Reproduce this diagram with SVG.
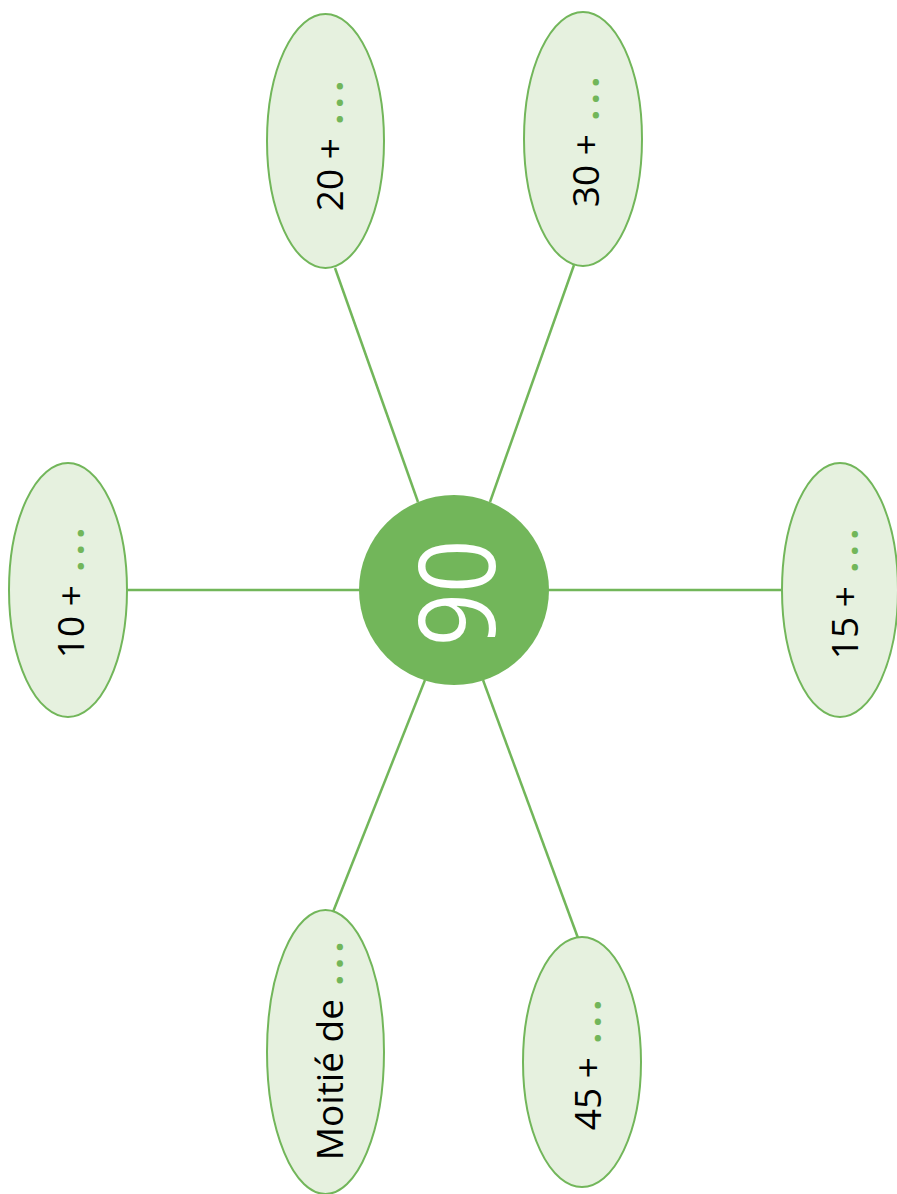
<svg xmlns="http://www.w3.org/2000/svg" width="897" height="1194" viewBox="0 0 897 1194">
  <style>
    .conn { stroke: #72B65A; stroke-width: 2.5; fill: none; }
    .leaf { fill: #E6F1DF; stroke: #72B65A; stroke-width: 2; }
    .hub { fill: #72B65A; }
    .lbl { font-family: "Open Sans", "Noto Sans", sans-serif; font-size: 37px; fill: #000; text-anchor: middle; }
    .dots { fill: #72B65A; letter-spacing: 6px; font-weight: bold; }
    .hubtxt { font-family: "Open Sans", "Noto Sans", sans-serif; font-size: 106px; fill: #fff; text-anchor: middle; }
  </style>
  <rect width="897" height="1194" fill="#fff"/>
  <g id="connectors">
    <line class="conn" x1="127" y1="590" x2="360" y2="590"/>
    <line class="conn" x1="548" y1="590" x2="782" y2="590"/>
    <line class="conn" x1="335" y1="268" x2="418" y2="502"/>
    <line class="conn" x1="574" y1="265" x2="490" y2="502"/>
    <line class="conn" x1="425" y1="680" x2="333" y2="912"/>
    <line class="conn" x1="483" y1="680" x2="578" y2="938"/>
  </g>
  <g id="node-center">
    <circle class="hub" cx="454" cy="590" r="95"/>
    <text class="hubtxt" transform="translate(495,593) rotate(-90)" textLength="107" lengthAdjust="spacingAndGlyphs">90</text>
  </g>
  <g id="node-10">
    <ellipse class="leaf" cx="68" cy="590" rx="59" ry="127"/>
    <text class="lbl" transform="translate(84,590) rotate(-90)">10 + <tspan class="dots" dx="4">...</tspan></text>
  </g>
  <g id="node-20">
    <ellipse class="leaf" cx="325.5" cy="141" rx="58.5" ry="127"/>
    <text class="lbl" transform="translate(343,143) rotate(-90)">20 + <tspan class="dots" dx="4">...</tspan></text>
  </g>
  <g id="node-30">
    <ellipse class="leaf" cx="583" cy="139" rx="59" ry="127"/>
    <text class="lbl" transform="translate(599,139) rotate(-90)">30 + <tspan class="dots" dx="4">...</tspan></text>
  </g>
  <g id="node-15">
    <ellipse class="leaf" cx="840" cy="590" rx="58" ry="127"/>
    <text class="lbl" transform="translate(858,591) rotate(-90)">15 + <tspan class="dots" dx="4">...</tspan></text>
  </g>
  <g id="node-moitie">
    <ellipse class="leaf" cx="325.5" cy="1052" rx="58.5" ry="142"/>
    <text class="lbl" transform="translate(343,1048) rotate(-90)">Moitié de <tspan class="dots" dx="4">...</tspan></text>
  </g>
  <g id="node-45">
    <ellipse class="leaf" cx="582" cy="1062" rx="59" ry="125"/>
    <text class="lbl" transform="translate(601,1062) rotate(-90)">45 + <tspan class="dots" dx="4">...</tspan></text>
  </g>
</svg>
